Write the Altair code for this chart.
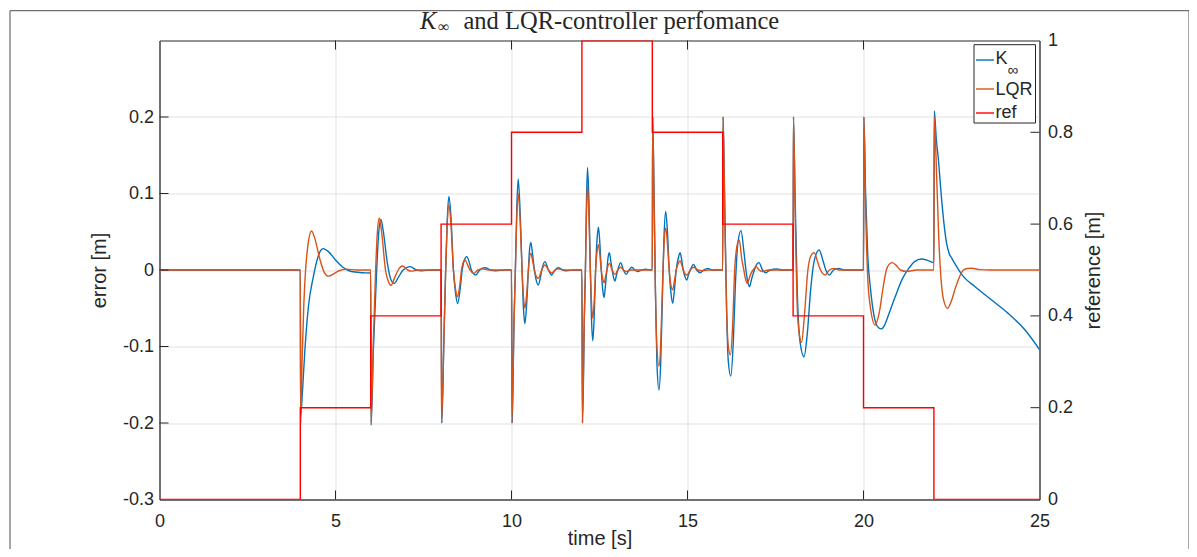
import altair as alt
import pandas as pd

# ---------------- data ----------------
kinf = [
    (0, 0), (4.0, 0), (4.01, -0.19), (4.06, -0.16), (4.13, -0.105), (4.23, -0.048), (4.37, -0.009),
    (4.47, 0.012), (4.56, 0.024), (4.65, 0.028), (4.8, 0.024), (5.0, 0.013), (5.2, 0.004), (5.45, -0.002),
    (5.75, -0.0035), (6.0, -0.004),
    (6.01, -0.203), (6.08, -0.1), (6.17, 0.0), (6.23, 0.05), (6.29, 0.066), (6.36, 0.05), (6.47, 0.01),
    (6.57, -0.012), (6.67, -0.0175), (6.78, -0.01), (6.92, 0.0), (7.02, 0.003), (7.12, 0.0044), (7.3, 0.0),
    (7.45, -0.001), (7.7, 0.0), (8.0, 0.0),
    (8.02, -0.2), (8.08, -0.09), (8.13, 0.0), (8.17, 0.06), (8.22, 0.096), (8.28, 0.07), (8.35, 0.0),
    (8.41, -0.03), (8.47, -0.044), (8.54, -0.025), (8.6, 0.0), (8.66, 0.013), (8.73, 0.0175), (8.8, 0.01),
    (8.86, 0.0), (8.98, -0.0065), (9.1, 0.0), (9.25, 0.003), (9.4, 0.0), (9.55, -0.001), (9.8, 0.0), (10.0, 0.0),
    (10.02, -0.2), (10.07, -0.07), (10.11, 0.0), (10.15, 0.08), (10.19, 0.119), (10.25, 0.07), (10.3, 0.0),
    (10.34, -0.05), (10.38, -0.07), (10.43, -0.045), (10.48, 0.0), (10.51, 0.025), (10.55, 0.036), (10.6, 0.02),
    (10.65, 0.0), (10.7, -0.013), (10.76, -0.0196), (10.82, -0.01), (10.86, 0.0), (10.95, 0.011), (11.05, 0.0),
    (11.14, -0.0065), (11.24, 0.0), (11.33, 0.003), (11.45, 0.0), (11.55, -0.001), (11.8, 0.0), (12.0, 0.0),
    (12.02, -0.2), (12.07, -0.06), (12.1, 0.0), (12.13, 0.09), (12.16, 0.134), (12.2, 0.09), (12.24, 0.0),
    (12.27, -0.06), (12.31, -0.0925), (12.35, -0.06), (12.39, 0.0), (12.43, 0.04), (12.47, 0.056), (12.51, 0.035),
    (12.55, 0.0), (12.59, -0.025), (12.63, -0.036), (12.67, -0.02), (12.71, 0.0), (12.74, 0.015), (12.78, 0.0227),
    (12.82, 0.012), (12.86, 0.0), (12.9, -0.01), (12.94, -0.0144), (12.98, -0.007), (13.02, 0.0), (13.1, 0.0096),
    (13.18, 0.0), (13.26, -0.0057), (13.34, 0.0), (13.42, 0.0035), (13.5, 0.0), (13.58, -0.002), (13.7, 0.0),
    (13.8, 0.001), (14.0, 0.0),
    (14.01, 0.2), (14.05, 0.1), (14.09, -0.03), (14.13, -0.12), (14.19, -0.157), (14.24, -0.12), (14.29, -0.03),
    (14.33, 0.04), (14.38, 0.0764), (14.43, 0.05), (14.48, 0.0), (14.53, -0.03), (14.58, -0.0436), (14.63, -0.025),
    (14.68, 0.0), (14.74, 0.016), (14.79, 0.0227), (14.84, 0.012), (14.88, 0.0), (14.93, -0.009), (14.98, -0.013),
    (15.03, -0.006), (15.08, 0.0), (15.17, 0.0074), (15.26, 0.0), (15.36, -0.0035), (15.46, 0.0), (15.57, 0.002),
    (15.7, 0.0), (16.0, 0.0),
    (16.01, 0.2), (16.06, 0.08), (16.11, -0.05), (16.16, -0.12), (16.23, -0.1387), (16.3, -0.095), (16.36, -0.02),
    (16.43, 0.035), (16.52, 0.0515), (16.6, 0.025), (16.66, 0.0), (16.71, -0.015), (16.76, -0.0218), (16.82, -0.012),
    (16.9, 0.0), (16.96, 0.007), (17.03, 0.0096), (17.13, 0.0), (17.22, -0.0035), (17.35, 0.0), (17.53, 0.0013),
    (17.7, 0.0), (18.0, 0.0),
    (18.01, 0.2), (18.06, 0.09), (18.12, -0.03), (18.2, -0.095), (18.31, -0.1134), (18.4, -0.085), (18.5, -0.025),
    (18.6, 0.012), (18.74, 0.0262), (18.85, 0.012), (18.93, 0.0), (19.03, -0.0065), (19.15, 0.0), (19.29, 0.002),
    (19.45, 0.0), (20.0, 0.0),
    (20.01, 0.2), (20.06, 0.1), (20.12, 0.02), (20.2, -0.025), (20.3, -0.06), (20.4, -0.074), (20.5, -0.077),
    (20.6, -0.072), (20.7, -0.06), (20.9, -0.035), (21.1, -0.012), (21.3, 0.003), (21.45, 0.011), (21.65, 0.0144),
    (21.85, 0.012), (22.0, 0.0096),
    (22.01, 0.208), (22.07, 0.17), (22.12, 0.148), (22.22, 0.092), (22.3, 0.055), (22.36, 0.035), (22.43, 0.022),
    (22.51, 0.0153), (22.84, -0.0087), (23.17, -0.0218), (23.64, -0.0393), (24.11, -0.0567), (24.59, -0.0785),
    (25.0, -0.104),
]

lqr = [
    (0, 0), (4.0, 0), (4.01, -0.2), (4.05, -0.12), (4.1, -0.045), (4.15, 0.0), (4.21, 0.03), (4.32, 0.051),
    (4.42, 0.04), (4.55, 0.015), (4.68, -0.003), (4.8, -0.008), (4.95, -0.005), (5.1, -0.001), (5.3, 0.001),
    (5.6, 0.0), (6.0, 0.0),
    (6.01, -0.2), (6.07, -0.1), (6.14, 0.0), (6.19, 0.05), (6.245, 0.068), (6.31, 0.05), (6.42, 0.0), (6.5, -0.015),
    (6.58, -0.02), (6.68, -0.01), (6.78, 0.0), (6.9, 0.0052), (7.05, 0.0), (7.15, -0.0015), (7.35, 0.0), (8.0, 0.0),
    (8.01, -0.2), (8.08, -0.09), (8.13, 0.0), (8.17, 0.055), (8.22, 0.085), (8.28, 0.06), (8.35, 0.0), (8.41, -0.025),
    (8.46, -0.035), (8.53, -0.02), (8.58, 0.0), (8.62, 0.009), (8.68, 0.013), (8.75, 0.007), (8.82, 0.0),
    (8.93, -0.0044), (9.05, 0.0), (9.18, 0.0015), (9.35, 0.0), (10.0, 0.0),
    (10.01, -0.2), (10.07, -0.07), (10.11, 0.0), (10.15, 0.07), (10.19, 0.1), (10.25, 0.06), (10.3, 0.0),
    (10.34, -0.035), (10.38, -0.05), (10.43, -0.032), (10.48, 0.0), (10.51, 0.015), (10.55, 0.022), (10.6, 0.012),
    (10.65, 0.0), (10.7, -0.008), (10.76, -0.011), (10.82, -0.005), (10.86, 0.0), (10.95, 0.0065), (11.05, 0.0),
    (11.14, -0.004), (11.24, 0.0), (11.33, 0.0015), (11.5, 0.0), (12.0, 0.0),
    (12.01, -0.2), (12.07, -0.06), (12.1, 0.0), (12.13, 0.075), (12.16, 0.111), (12.2, 0.07), (12.24, 0.0),
    (12.27, -0.04), (12.31, -0.063), (12.35, -0.04), (12.39, 0.0), (12.43, 0.024), (12.47, 0.033), (12.51, 0.02),
    (12.55, 0.0), (12.59, -0.011), (12.63, -0.0166), (12.67, -0.009), (12.71, 0.0), (12.78, 0.0087), (12.86, 0.0),
    (12.94, -0.0057), (13.02, 0.0), (13.1, 0.0035), (13.18, 0.0), (13.26, -0.002), (13.4, 0.0), (14.0, 0.0),
    (14.01, 0.2), (14.05, 0.09), (14.09, -0.03), (14.13, -0.1), (14.19, -0.1257), (14.24, -0.095), (14.29, -0.02),
    (14.33, 0.03), (14.38, 0.0545), (14.43, 0.035), (14.48, 0.0), (14.53, -0.02), (14.58, -0.026), (14.63, -0.014),
    (14.68, 0.0), (14.74, 0.009), (14.79, 0.0122), (14.84, 0.006), (14.88, 0.0), (14.98, -0.0066), (15.08, 0.0),
    (15.17, 0.0035), (15.3, 0.0), (15.4, -0.001), (15.6, 0.0), (16.0, 0.0),
    (16.01, 0.2), (16.06, 0.07), (16.11, -0.05), (16.16, -0.1), (16.22, -0.111), (16.28, -0.075), (16.34, 0.0),
    (16.4, 0.03), (16.47, 0.0393), (16.54, 0.015), (16.6, 0.0), (16.65, -0.012), (16.7, -0.0175), (16.78, -0.007),
    (16.86, 0.0), (16.95, 0.0044), (17.03, 0.0), (17.12, -0.002), (17.3, 0.0), (18.0, 0.0),
    (18.01, 0.2), (18.06, 0.07), (18.12, -0.05), (18.18, -0.085), (18.24, -0.0947), (18.32, -0.06), (18.42, 0.0),
    (18.5, 0.018), (18.6, 0.0227), (18.7, 0.01), (18.78, 0.0), (18.91, -0.0065), (19.03, 0.0), (19.16, 0.002),
    (19.3, 0.0), (20.0, 0.0),
    (20.01, 0.2), (20.06, 0.08), (20.12, -0.01), (20.2, -0.05), (20.33, -0.072), (20.45, -0.055), (20.55, -0.025),
    (20.65, 0.0), (20.72, 0.007), (20.82, 0.0096), (20.95, 0.005), (21.05, 0.0), (21.23, -0.002), (21.5, 0.0),
    (22.0, 0.0),
    (22.01, 0.2), (22.08, 0.12), (22.14, 0.04), (22.2, -0.01), (22.28, -0.04), (22.39, -0.05), (22.5, -0.04),
    (22.6, -0.025), (22.69, -0.013), (22.84, 0.0), (22.95, 0.002), (23.07, 0.0022), (23.3, 0.0005), (23.6, 0.0),
    (25.0, 0.0),
]

ref_t = [0, 4, 6, 8, 10, 12, 14, 16, 18, 20, 22, 25]
ref_v = [0, 0.2, 0.4, 0.6, 0.8, 1.0, 0.8, 0.6, 0.4, 0.2, 0, 0]

x_ticks = [0, 5, 10, 15, 20, 25]
err_ticks = [-0.3, -0.2, -0.1, 0, 0.1, 0.2]
ref_ticks = [0, 0.2, 0.4, 0.6, 0.8, 1]

# ---------------- layout ----------------
W, H = 880, 459
TICK = 9
AX = "#262626"
GRID = "#e1e1e1"
SANS = "Liberation Sans"
SERIF = "Liberation Serif"
BLUE, ORANGE, RED = "#0072BD", "#D95319", "#FF0000"
LW = 1.4

df_k = pd.DataFrame(kinf, columns=["t", "e"])
df_l = pd.DataFrame(lqr, columns=["t", "e"])
df_r = pd.DataFrame({"t": ref_t, "r": ref_v})

xs = alt.Scale(domain=[0, 25], nice=False, zero=False)
ys_e = alt.Scale(domain=[-0.3, 0.3], nice=False, zero=False)
ys_r = alt.Scale(domain=[0, 1], nice=False, zero=False)

LBL = "datum.value + ''"

# the same x axis object is given to every layer so that the shared axis merges cleanly
x_axis = alt.Axis(values=x_ticks, grid=True, tickSize=0, labelPadding=13, labelFlush=False,
                  labelExpr=LBL, title="time [s]", titleY=44.5, titleBaseline="alphabetic")
ye_axis = alt.Axis(values=err_ticks, grid=True, tickSize=0, labelPadding=6, labelFlush=False,
                   labelExpr=LBL, title="error [m]", titleAngle=-90, titleX=-60, titleY=H / 2,
                   titleAlign="center", titleBaseline="middle")
yr_axis = alt.Axis(orient="right", values=ref_ticks, grid=False, tickSize=0, labelPadding=8,
                   labelFlush=False, labelExpr=LBL, title="reference [m]", titleAngle=-90,
                   titleX=54, titleY=H / 2, titleAlign="center", titleBaseline="middle")

k_line = alt.Chart(df_k).mark_line(color=BLUE, strokeWidth=LW, interpolate="monotone", clip=True).encode(
    x=alt.X("t:Q", scale=xs, axis=x_axis), y=alt.Y("e:Q", scale=ys_e, axis=ye_axis), order="t:Q")
l_line = alt.Chart(df_l).mark_line(color=ORANGE, strokeWidth=LW, interpolate="monotone", clip=True).encode(
    x=alt.X("t:Q", scale=xs, axis=x_axis), y=alt.Y("e:Q", scale=ys_e, axis=None), order="t:Q")
r_line = alt.Chart(df_r).mark_line(color=RED, strokeWidth=LW, interpolate="step-after", clip=True).encode(
    x=alt.X("t:Q", scale=xs, axis=x_axis), y=alt.Y("r:Q", scale=ys_r, axis=yr_axis), order="t:Q")

df_xt = pd.DataFrame({"t": x_ticks[1:-1]})
df_yt = pd.DataFrame({"v": err_ticks[1:]})
df_rt = pd.DataFrame({"v": ref_ticks[1:-1]})

xt_bot = alt.Chart(df_xt).mark_rule(color=AX, strokeWidth=1).encode(
    x=alt.X("t:Q", scale=xs, axis=x_axis), y=alt.value(H), y2=alt.value(H - TICK))
xt_top = alt.Chart(df_xt).mark_rule(color=AX, strokeWidth=1).encode(
    x=alt.X("t:Q", scale=xs, axis=x_axis), y=alt.value(0), y2=alt.value(TICK))
yt_left = alt.Chart(df_yt).mark_rule(color=AX, strokeWidth=1).encode(
    y=alt.Y("v:Q", scale=ys_e, axis=None), x=alt.value(0), x2=alt.value(TICK))
yt_right = alt.Chart(df_rt).mark_rule(color=AX, strokeWidth=1).encode(
    y=alt.Y("v:Q", scale=ys_r, axis=None), x=alt.value(W), x2=alt.value(W - TICK))

one = pd.DataFrame({"a": [0]})


def txt(s, x, y, size, font=SANS, style="normal", baseline="middle", align="left"):
    return alt.Chart(one).mark_text(text=s, font=font, fontSize=size, fontStyle=style, color=AX,
                                    baseline=baseline, align=align).encode(x=alt.value(x), y=alt.value(y))


def seg(x1, x2, y, color):
    return alt.Chart(one).mark_rule(color=color, strokeWidth=LW).encode(
        x=alt.value(x1), x2=alt.value(x2), y=alt.value(y))


border = alt.Chart(one).mark_rect(fillOpacity=0, stroke="#4d4d4d", strokeWidth=1).encode(
    x=alt.value(-149.5), x2=alt.value(1029.5), y=alt.value(-29.8), y2=alt.value(620))

legend_box = alt.Chart(one).mark_rect(fill="white", stroke=AX, strokeWidth=1).encode(
    x=alt.value(814.5), x2=alt.value(876), y=alt.value(4.2), y2=alt.value(82.5))

TS = 24.5
chart = alt.layer(
    k_line, l_line, r_line, xt_bot, xt_top, yt_left, yt_right,
    border,
    legend_box,
    seg(816.5, 834.5, 19.5, BLUE),
    seg(816.5, 834.5, 48.5, ORANGE),
    seg(816.5, 834.5, 72.5, RED),
    txt("K", 836, 18.5, 18),
    txt("\u221e", 848, 29.5, 15),
    txt("LQR", 836, 49, 18),
    txt("ref", 836, 72.5, 18),
    txt("K", 260.5, -12, TS, font=SERIF, style="italic", baseline="alphabetic"),
    txt("\u221e", 278.5, -8.5, 16, font=SERIF, baseline="alphabetic"),
    txt("and LQR-controller perfomance", 304, -12, TS, font=SERIF, baseline="alphabetic"),
).resolve_scale(y="independent").properties(
    width=W, height=H,
    autosize=alt.AutoSizeParams(type="none"),
    padding={"left": 151.5, "top": 32.5, "right": 149.5, "bottom": 49.5},
    background="white",
).configure_view(stroke=AX, strokeWidth=1).configure_axis(
    gridColor=GRID, domainColor=AX, labelFont=SANS, labelFontSize=18, labelColor=AX,
    titleFont=SANS, titleFontSize=20, titleFontWeight="normal", titleColor=AX,
)

chart.save("out.html", embed_options={"renderer": "svg", "actions": False})
